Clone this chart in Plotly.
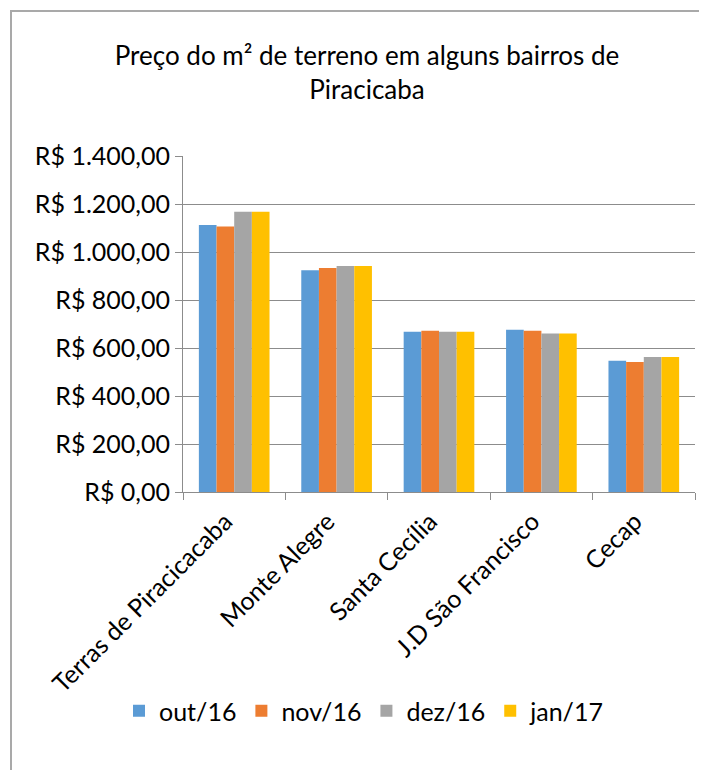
import plotly.graph_objects as go

categories = ["Terras de Piracicacaba", "Monte Alegre", "Santa Cecília", "J.D São Francisco", "Cecap"]
series_names = ["out/16", "nov/16", "dez/16", "jan/17"]
out16 = [1112, 924, 668, 676, 547]
nov16 = [1106, 933, 672, 672, 542]
dez16 = [1168, 942, 668, 660, 562]
jan17 = [1168, 942, 668, 660, 562]
series_values = [out16, nov16, dez16, jan17]
colors = ["#5B9BD5", "#ED7D31", "#A5A5A5", "#FFC000"]

y_tickvals = [0, 200, 400, 600, 800, 1000, 1200, 1400]
y_ticktext = ["R$ 0,00", "R$ 200,00", "R$ 400,00", "R$ 600,00", "R$ 800,00",
              "R$ 1.000,00", "R$ 1.200,00", "R$ 1.400,00"]

W, H = 707, 770
OFF = 8  # page body margin
# target plot area in screen px: x 183..695, y 156..492
L = 183 - OFF
T = 156 - OFF
R = W - (695 - OFF)
B = H - (492 - OFF)
pw, ph = W - L - R, H - T - B

def px_x(x):
    return (x - OFF - L) / pw

def px_y(y):
    return (H - B - (y - OFF)) / ph

FONT = "Lato"
FS = 25

fig = go.Figure()
for name, vals, c in zip(series_names, series_values, colors):
    fig.add_trace(go.Bar(name=name, x=categories, y=vals, marker=dict(color=c, line=dict(width=0))))

fig.update_layout(
    width=W, height=H,
    margin=dict(l=L, r=R, t=T, b=B),
    paper_bgcolor="white", plot_bgcolor="white",
    barmode="group", bargap=0.31, bargroupgap=0,
    font=dict(family=FONT, color="#000000", size=FS),
    title=dict(text="Preço do m² de terreno em alguns bairros de<br>Piracicaba",
               x=(367 - OFF) / W, xanchor="center", y=1 - (65 - OFF) / H, yanchor="top",
               font=dict(family=FONT, size=26, color="#000000")),
    legend=dict(orientation="h", x=px_x(364), xanchor="center", y=px_y(711), yanchor="middle",
                font=dict(family=FONT, size=FS), itemwidth=30, traceorder="normal"),
    showlegend=True,
    shapes=[dict(type="rect", xref="paper", yref="paper",
                 x0=px_x(11), x1=px_x(730), y0=px_y(790), y1=px_y(11),
                 line=dict(color="#a9a9a9", width=2), fillcolor="rgba(0,0,0,0)", layer="below")],
)

fig.update_yaxes(range=[0, 1400], tickvals=y_tickvals, ticktext=y_ticktext,
                 showgrid=True, gridcolor="#8c8c8c", gridwidth=1,
                 showline=True, linecolor="#8c8c8c", linewidth=1,
                 ticks="outside", ticklen=7, tickcolor="#8c8c8c",
                 tickfont=dict(family=FONT, size=FS), zeroline=False)
fig.update_xaxes(showline=True, linecolor="#8c8c8c", linewidth=1,
                 ticks="outside", ticklen=7, tickcolor="#8c8c8c", tickson="boundaries",
                 tickangle=-45, tickfont=dict(family=FONT, size=FS),
                 ticklabelshift=-9, ticklabelstandoff=4)

fig.write_html("out.html")
